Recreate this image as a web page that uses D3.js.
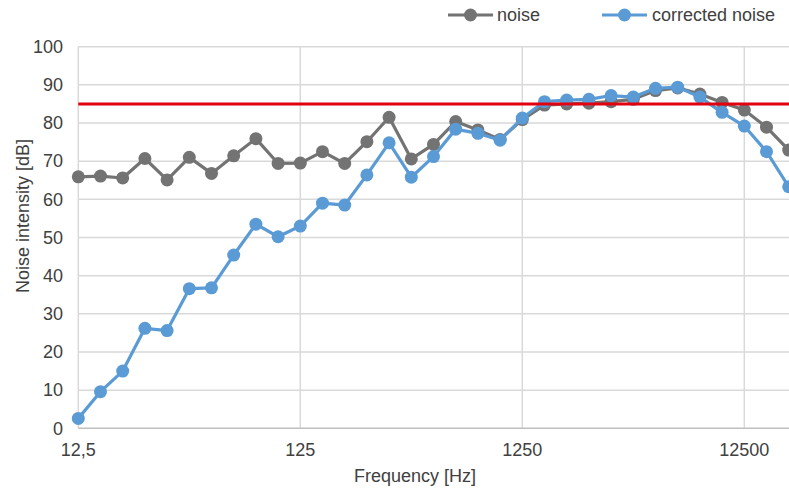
<!DOCTYPE html>
<html><head><meta charset="utf-8">
<script src="https://cdn.jsdelivr.net/npm/d3@7"></script>
<style>
html,body{margin:0;padding:0;background:#fff;}
svg{display:block;font-family:"Liberation Sans",Arial,sans-serif;}
</style></head>
<body><svg id="chart" width="789" height="491"></svg>
<script>
const categories = ["12,5","16","20","25","31,5","40","50","63","80","100","125","160","200","250","315","400","500","630","800","1000","1250","1600","2000","2500","3150","4000","5000","6300","8000","10000","12500","16000","20000"];
const tickLabels = ["12,5","125","1250","12500"];
const noise = [65.9,66.1,65.6,70.7,65.1,71.0,66.8,71.4,75.9,69.4,69.5,72.5,69.4,75.1,81.5,70.6,74.4,80.4,78.2,75.7,80.9,84.7,85.0,85.2,85.6,86.2,88.5,89.2,87.6,85.4,83.4,78.9,72.9];
const corrected = [2.6,9.6,15.0,26.2,25.6,36.6,36.8,45.4,53.5,50.2,53.0,59.0,58.5,66.4,74.8,65.8,71.2,78.4,77.3,75.5,81.3,85.6,86.0,86.2,87.2,86.8,89.1,89.4,86.8,82.8,79.2,72.5,63.3];
const limit = 85;
const yTicks = [0,10,20,30,40,50,60,70,80,90,100];
const seriesNames = ["noise","corrected noise"];

const svg = d3.select("#chart");
const W = 789;
const pLeft = 78.3, pTop = 46.7, pBottom = 428.3;
const x = d3.scalePoint().domain(categories).range([pLeft, pLeft + 22.2*(categories.length-1)]);
const y = d3.scaleLinear().domain([0,100]).range([pBottom, pTop]);
const textCol = "#404040", gridCol = "#d9d9d9";
const cGrey = "#737373", cBlue = "#5b9bd5", cRed = "#e3000f";

// horizontal gridlines
svg.append("g").selectAll("line").data(yTicks.filter(d=>d>0)).join("line")
  .attr("x1", pLeft).attr("x2", W).attr("y1", d=>y(d)).attr("y2", d=>y(d))
  .attr("stroke", gridCol).attr("stroke-width", 1.5);
// vertical gridlines
svg.append("g").selectAll("line").data(tickLabels).join("line")
  .attr("x1", d=>x(d)).attr("x2", d=>x(d)).attr("y1", pTop).attr("y2", pBottom)
  .attr("stroke", gridCol).attr("stroke-width", 1.5);
// x axis line
svg.append("line").attr("x1", pLeft).attr("x2", W).attr("y1", pBottom).attr("y2", pBottom)
  .attr("stroke", "#bfbfbf").attr("stroke-width", 1.5);

// y tick labels
svg.append("g").selectAll("text").data(yTicks).join("text")
  .attr("x", 63).attr("y", d=>y(d)).attr("dy","0.35em").attr("text-anchor","end")
  .attr("font-size", 18).attr("fill", textCol).text(d=>d);
// x tick labels
svg.append("g").selectAll("text").data(tickLabels).join("text")
  .attr("x", d=>x(d)).attr("y", 450).attr("dy","0.35em").attr("text-anchor","middle")
  .attr("font-size", 18).attr("fill", textCol).text(d=>d);

// axis titles
svg.append("text").attr("x", 415).attr("y", 476).attr("dy","0.35em").attr("text-anchor","middle")
  .attr("font-size", 18).attr("fill", textCol).text("Frequency [Hz]");
svg.append("text").attr("transform","translate(22.5,216) rotate(-90)").attr("dy","0.35em")
  .attr("text-anchor","middle").attr("font-size", 18).attr("fill", textCol).text("Noise intensity [dB]");

const line = d3.line().x((d,i)=>x(categories[i])).y(d=>y(d));
function drawSeries(vals, col){
  const g = svg.append("g");
  g.append("path").datum(vals).attr("d", line).attr("fill","none")
    .attr("stroke", col).attr("stroke-width", 3.2).attr("stroke-linejoin","round");
  g.selectAll("circle").data(vals).join("circle")
    .attr("cx", (d,i)=>x(categories[i])).attr("cy", d=>y(d)).attr("r", 6.5).attr("fill", col);
}
drawSeries(noise, cGrey);
drawSeries(corrected, cBlue);

// limit line
svg.append("line").attr("x1", pLeft).attr("x2", W).attr("y1", y(limit)).attr("y2", y(limit))
  .attr("stroke", cRed).attr("stroke-width", 3);

// legend
const legend = [{name: seriesNames[0], col: cGrey, x0: 448, x1: 493, tx: 497},
                {name: seriesNames[1], col: cBlue, x0: 602, x1: 647, tx: 652}];
const lg = svg.append("g");
legend.forEach(l=>{
  lg.append("line").attr("x1", l.x0).attr("x2", l.x1).attr("y1", 15).attr("y2", 15)
    .attr("stroke", l.col).attr("stroke-width", 3.2);
  lg.append("circle").attr("cx", (l.x0+l.x1)/2).attr("cy", 15).attr("r", 6.5).attr("fill", l.col);
  lg.append("text").attr("x", l.tx).attr("y", 15).attr("dy","0.35em").attr("font-size", 18)
    .attr("fill", textCol).text(l.name);
});
</script></body></html>
